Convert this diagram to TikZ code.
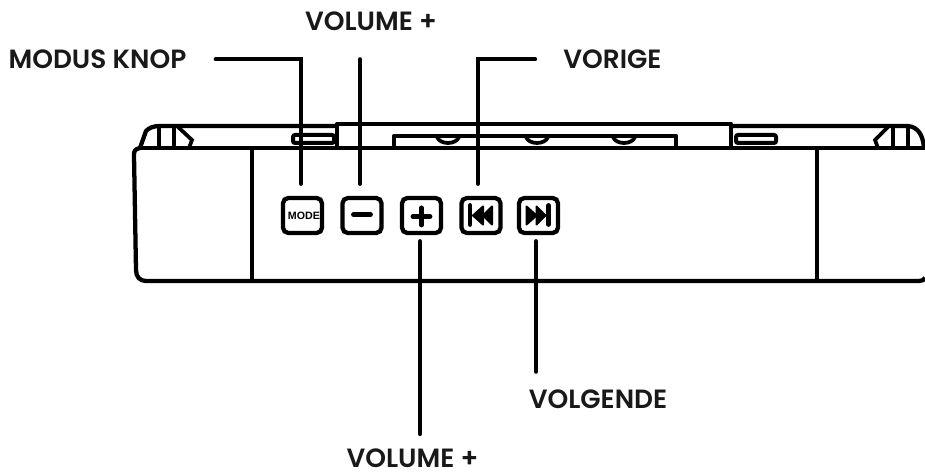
\documentclass[tikz,border=0pt]{standalone}
\usepackage{fontspec}
\setmainfont{Poppins}[BoldFont={Poppins SemiBold}]
\newfontfamily\modefont{Liberation Sans}
\tikzset{
    lbl/.style={font=\fontsize{19.8pt}{21pt}\selectfont\bfseries, inner sep=0pt, text=black!90},
    btn/.style={draw, line width=3.2pt, rounded corners=4pt, minimum width=29.25pt, minimum height=26.25pt, inner sep=0pt},
    lead/.style={line width=3pt, line cap=round},
    body/.style={line width=3.2pt, line join=round},
    icon/.style={line width=3.6pt, line cap=round}
}

\begin{document}
\begin{tikzpicture}[x=.75pt, y=-.75pt]
            \useasboundingbox (0, 0) rectangle (925, 473);

            % housing
            \draw[body] (140, 148) -- (925, 148);
            \draw[body] (140, 148) .. controls (135, 149) and (134, 151) .. (134, 155) -- (136, 270) .. controls (136, 277) and (140, 281) .. (146, 281) -- (919, 281) .. controls (922, 281) and (924, 280) .. (925, 278);
            \draw[body] (252, 148) -- (252, 281);
            \draw[body] (817, 148) -- (817, 281);

            % top edge
            \draw[body] (140, 148) -- (146, 131) .. controls (149, 128) and (153, 126) .. (160, 126) -- (337, 126);
            \draw[body] (337, 126) -- (337, 124) -- (731, 124) -- (731, 148);
            \draw[body] (731, 126) -- (908, 126) .. controls (918, 127) and (923, 135) .. (924, 148);
            \draw[body] (337, 124) -- (337, 148);
            \draw[body] (394, 148) -- (394, 136) -- (676, 136) -- (676, 148);
            \foreach \xa in {448, 537, 624} {
                \draw[line width=2.8pt] (\xa-11, 137) .. controls (\xa-8, 145) and (\xa+8, 145) .. (\xa+11, 137);
            }

            % slots
            \draw[line width=3pt, rounded corners=1.5pt] (293, 135) rectangle (334, 143);
            \draw[line width=3pt, rounded corners=1.5pt] (736, 135) rectangle (776, 143);

            % hinges
            \foreach \xa in {159, 174, 893, 908} {
                \draw[line width=2.8pt] (\xa, 126) -- (\xa, 150);
            }
            \draw[line width=2.8pt] (178, 127) -- (192, 140) -- (189, 148);
            \draw[line width=2.8pt] (888, 127) -- (875, 140) -- (878, 148);

            % buttons
            \draw (302.5, 215.5) node[btn] (btnmode) {\hspace*{2.2pt}\modefont\fontsize{8pt}{8pt}\selectfont\bfseries MODE};
            \draw (362, 215.5) node[btn] (btnminus) {};
            \draw (421.5, 215.5) node[btn] (btnplus) {};
            \draw (481, 215.5) node[btn] (btnprev) {};
            \draw (538.5, 215.5) node[btn] (btnnext) {};

            \draw[icon] ([xshift=-6.4pt, yshift=.7pt]btnminus.center) -- ([xshift=6.4pt, yshift=.7pt]btnminus.center);
            \draw[icon] ([xshift=-6.4pt, yshift=-.7pt]btnplus.center) -- ([xshift=6.4pt, yshift=-.7pt]btnplus.center);
            \draw[icon] ([yshift=6.4pt, yshift=-.7pt]btnplus.center) -- ([yshift=-6.4pt, yshift=-.7pt]btnplus.center);

            \begin{scope}[shift={(btnprev.center)}]
                \draw[icon] (-11, -10) -- (-11, 9);
                \fill[line width=1.5pt, draw, line join=round] (-8, 0) -- (2, -9) -- (2, 9) -- cycle;
                \fill[line width=1.5pt, draw, line join=round] (2, 0) -- (11, -9) -- (11, 9) -- cycle;
            \end{scope}
            \begin{scope}[shift={(btnnext.center)}]
                \draw[icon] (10, -10) -- (10, 9);
                \fill[line width=1.5pt, draw, line join=round] (7, 0) -- (-2, -9) -- (-2, 9) -- cycle;
                \fill[line width=1.5pt, draw, line join=round] (-2, 0) -- (-12, -9) -- (-12, 9) -- cycle;
            \end{scope}

            % labels
            \draw (97.5, 59.5) node[lbl] (modus) {MODUS KNOP};
            \draw (371, 21.5) node[lbl] (volup) {VOLUME +};
            \draw (612.5, 59.5) node[lbl] (vorige) {VORIGE};
            \draw (598, 399.5) node[lbl] (volgende) {VOLGENDE};
            \draw (412.5, 458.5) node[lbl] (voldown) {VOLUME +};

            % leaders
            \draw[lead, shorten <=21.75pt, shorten >=9pt] (modus.east) -| ([xshift=-1.1pt]btnmode.north);
            \draw[lead, shorten <=21pt, shorten >=9pt] ([xshift=-1.5pt]btnminus.north |- volup.south) -- ([xshift=-1.5pt]btnminus.north);
            \draw[lead, shorten <=21pt, shorten >=9pt] (vorige.west) -| ([xshift=-2.2pt]btnprev.north);
            \draw[lead, shorten <=4.5pt, shorten >=11pt] ([xshift=-1.1pt]btnplus.south) -- ([xshift=-1.1pt]btnplus.south |- voldown.north);
            \draw[lead, shorten <=4.5pt, shorten >=13.5pt] ([xshift=-1.9pt]btnnext.south) -- ([xshift=-1.9pt]btnnext.south |- volgende.north);
        \end{tikzpicture}
\end{document}
